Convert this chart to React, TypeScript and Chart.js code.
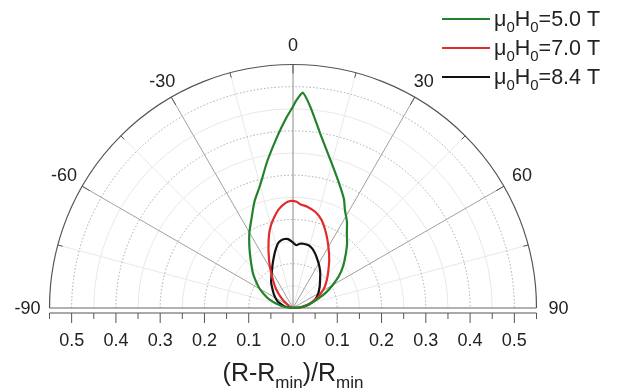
import React, { useEffect, useRef } from "react";
import { Chart, registerables } from "chart.js";

Chart.register(...registerables);

// ---- data (polar: angle in degrees from vertical, radius = (R-Rmin)/Rmin) ----
const seriesNames = ["5.0 T", "7.0 T", "8.4 T"];
const seriesColors = ["#22822a", "#e12a2a", "#111111"];

const angles5T = [-90, -80, -70, -60, -50, -45, -40, -35, -30, -25, -20, -15, -10, -5, -2, 0, 1, 2.6, 5, 9, 15, 20, 25, 28, 32, 36, 40, 44, 50, 55, 60, 65, 70, 75, 80, 85, 90];
const r5T = [0, 0.026, 0.058, 0.087, 0.117, 0.132, 0.15, 0.172, 0.197, 0.222, 0.255, 0.287, 0.336, 0.392, 0.43, 0.455, 0.47, 0.487, 0.455, 0.397, 0.338, 0.302, 0.272, 0.25, 0.23, 0.207, 0.19, 0.172, 0.148, 0.127, 0.103, 0.082, 0.06, 0.042, 0.027, 0.014, 0];

const angles7T = [-90, -75, -65, -55, -50, -45, -40, -35, -32, -29, -26, -22, -18, -15, -12, -8, -4, -1, 2, 4, 8, 13, 18, 24, 30, 37, 45, 50, 56, 60, 66, 70, 75, 80, 85, 90];
const r7T = [0, 0.004, 0.008, 0.02, 0.033, 0.047, 0.063, 0.08, 0.093, 0.108, 0.124, 0.148, 0.175, 0.193, 0.208, 0.226, 0.238, 0.242, 0.24, 0.235, 0.231, 0.223, 0.209, 0.184, 0.16, 0.136, 0.112, 0.1, 0.087, 0.077, 0.063, 0.052, 0.04, 0.028, 0.016, 0];

const angles84T = [-90, -80, -70, -64, -56, -48, -40, -34, -29, -24, -20, -17, -13, -10, -7, -4, -1, 3, 6, 9, 14, 18, 22, 27, 32, 38, 44, 50, 55, 60, 66, 72, 78, 83, 87, 90];
const r84T = [0, 0.019, 0.032, 0.041, 0.051, 0.062, 0.077, 0.087, 0.098, 0.112, 0.125, 0.136, 0.15, 0.155, 0.157, 0.156, 0.15, 0.142, 0.146, 0.147, 0.146, 0.141, 0.133, 0.122, 0.112, 0.1, 0.088, 0.079, 0.072, 0.066, 0.058, 0.049, 0.036, 0.023, 0.012, 0];

const angleTicks = [-90, -60, -30, 0, 30, 60, 90];
const angleMinorTicks = [-75, -45, -15, 15, 45, 75];
const radiusMajor = [0.1, 0.2, 0.3, 0.4, 0.5];
const radiusMinor = [0.05, 0.15, 0.25, 0.35, 0.45];
const radiusMax = 0.55;
const xTickValues = [-0.5, -0.4, -0.3, -0.2, -0.1, 0, 0.1, 0.2, 0.3, 0.4, 0.5];
const xTickLabels = ["0.5", "0.4", "0.3", "0.2", "0.1", "0.0", "0.1", "0.2", "0.3", "0.4", "0.5"];
const xMinorTicks = [-0.55, -0.45, -0.35, -0.25, -0.15, -0.05, 0.05, 0.15, 0.25, 0.35, 0.45, 0.55];

const FONT = '"Liberation Sans", Arial, Helvetica, sans-serif';

function toXY(angles: number[], radii: number[]) {
  return angles.map((a, i) => {
    const t = (a * Math.PI) / 180;
    return { x: radii[i] * Math.sin(t), y: radii[i] * Math.cos(t) };
  });
}

type Part = { t: string; sub?: boolean };

function drawRich(ctx: CanvasRenderingContext2D, parts: Part[], x: number, y: number, size: number, subSize: number, subShift: number, align: "left" | "center") {
  const widths = parts.map((p) => {
    ctx.font = `${p.sub ? subSize : size}px ${FONT}`;
    return ctx.measureText(p.t).width;
  });
  const total = widths.reduce((a, b) => a + b, 0);
  let cx = align === "center" ? x - total / 2 : x;
  ctx.textAlign = "left";
  ctx.textBaseline = "alphabetic";
  parts.forEach((p, i) => {
    ctx.font = `${p.sub ? subSize : size}px ${FONT}`;
    ctx.fillText(p.t, cx, p.sub ? y + subShift : y);
    cx += widths[i];
  });
}

const polarPlugin = {
  id: "polarGrid",
  beforeDatasetsDraw(chart: any) {
    const ctx: CanvasRenderingContext2D = chart.ctx;
    const xs = chart.scales.x;
    const ys = chart.scales.y;
    const cx = xs.getPixelForValue(0);
    const cy = ys.getPixelForValue(0);
    const R = (r: number) => xs.getPixelForValue(r) - cx;
    const pt = (a: number, rad: number) => {
      const t = (a * Math.PI) / 180;
      return [cx + rad * Math.sin(t), cy - rad * Math.cos(t)];
    };
    const Rmax = R(radiusMax);
    ctx.save();
    // minor arcs
    ctx.strokeStyle = "#e8e8e8";
    ctx.lineWidth = 1;
    radiusMinor.forEach((r) => {
      ctx.beginPath();
      ctx.arc(cx, cy, R(r), Math.PI, 2 * Math.PI);
      ctx.stroke();
    });
    // minor radials
    angleMinorTicks.forEach((a) => {
      const [x, y] = pt(a, Rmax);
      ctx.beginPath();
      ctx.moveTo(cx, cy);
      ctx.lineTo(x, y);
      ctx.stroke();
    });
    // dotted major arcs
    ctx.strokeStyle = "#a8a8a8";
    ctx.setLineDash([1.5, 2]);
    radiusMajor.forEach((r) => {
      ctx.beginPath();
      ctx.arc(cx, cy, R(r), Math.PI, 2 * Math.PI);
      ctx.stroke();
    });
    ctx.setLineDash([]);
    // major radials
    angleTicks.forEach((a) => {
      if (Math.abs(a) === 90) return;
      const [x, y] = pt(a, Rmax);
      ctx.strokeStyle = a === 0 ? "#8a8a8a" : "#a0a0a0";
      ctx.beginPath();
      ctx.moveTo(cx, cy);
      ctx.lineTo(x, y);
      ctx.stroke();
    });
    // outer arc
    ctx.strokeStyle = "#555";
    ctx.lineWidth = 1.2;
    ctx.beginPath();
    ctx.arc(cx, cy, Rmax, Math.PI, 2 * Math.PI);
    ctx.stroke();
    // ticks on outer arc
    ctx.lineWidth = 1;
    angleMinorTicks.forEach((a) => {
      const [x1, y1] = pt(a, Rmax);
      const [x2, y2] = pt(a, Rmax - 5);
      ctx.beginPath();
      ctx.moveTo(x1, y1);
      ctx.lineTo(x2, y2);
      ctx.stroke();
    });
    angleTicks.forEach((a) => {
      if (Math.abs(a) === 90) return;
      const [x1, y1] = pt(a, Rmax);
      const [x2, y2] = pt(a, Rmax - 9);
      ctx.beginPath();
      ctx.moveTo(x1, y1);
      ctx.lineTo(x2, y2);
      ctx.stroke();
    });
    // baseline
    ctx.strokeStyle = "#666";
    ctx.lineWidth = 1.2;
    ctx.beginPath();
    ctx.moveTo(cx - Rmax, cy);
    ctx.lineTo(cx + Rmax, cy);
    ctx.stroke();
    // x axis
    const ay = cy + 5;
    ctx.strokeStyle = "#555";
    ctx.lineWidth = 1;
    ctx.beginPath();
    ctx.moveTo(cx - Rmax, ay);
    ctx.lineTo(cx + Rmax, ay);
    ctx.stroke();
    xTickValues.forEach((v) => {
      const x = xs.getPixelForValue(v);
      ctx.beginPath();
      ctx.moveTo(x, ay);
      ctx.lineTo(x, ay + 10);
      ctx.stroke();
    });
    xMinorTicks.forEach((v) => {
      const x = xs.getPixelForValue(v);
      ctx.beginPath();
      ctx.moveTo(x, ay);
      ctx.lineTo(x, ay + 6);
      ctx.stroke();
    });
    ctx.restore();
  },
  afterDraw(chart: any) {
    const ctx: CanvasRenderingContext2D = chart.ctx;
    const xs = chart.scales.x;
    const ys = chart.scales.y;
    const cx = xs.getPixelForValue(0);
    const cy = ys.getPixelForValue(0);
    const Rmax = xs.getPixelForValue(radiusMax) - cx;
    ctx.save();
    ctx.fillStyle = "#222";
    // angle labels
    ctx.font = `18px ${FONT}`;
    ctx.textAlign = "center";
    ctx.textBaseline = "middle";
    angleTicks.forEach((a) => {
      const t = (a * Math.PI) / 180;
      const off = Math.abs(a) === 90 ? 22 : Math.abs(a) === 60 ? 21 : 18;
      const x = cx + (Rmax + off) * Math.sin(t);
      const y = cy - (Rmax + off) * Math.cos(t);
      ctx.fillText(String(a), x, y + (Math.abs(a) === 90 ? 1 : 0));
    });
    // x tick labels
    ctx.font = `18px ${FONT}`;
    xTickValues.forEach((v, i) => {
      ctx.fillText(xTickLabels[i], xs.getPixelForValue(v), cy + 33);
    });
    // title
    drawRich(
      ctx,
      [{ t: "(R-R" }, { t: "min", sub: true }, { t: ")/R" }, { t: "min", sub: true }],
      cx,
      cy + 73,
      25,
      17,
      7,
      "center"
    );
    // legend
    seriesNames.forEach((name, i) => {
      const y = 19 + i * 29;
      ctx.strokeStyle = seriesColors[i];
      ctx.lineWidth = 2.2;
      ctx.beginPath();
      ctx.moveTo(442, y);
      ctx.lineTo(490, y);
      ctx.stroke();
      ctx.fillStyle = "#222";
      drawRich(
        ctx,
        [{ t: "\u03bc" }, { t: "0", sub: true }, { t: "H" }, { t: "0", sub: true }, { t: "=" + name }],
        494,
        y + 7,
        21.5,
        15,
        6,
        "left"
      );
    });
    ctx.restore();
  },
};

export default function App() {
  const canvasRef = useRef<HTMLCanvasElement>(null);
  useEffect(() => {
    document.body.style.margin = "0";
    const canvas = canvasRef.current;
    if (!canvas) return;
    const datasets = [
      toXY(angles5T, r5T),
      toXY(angles7T, r7T),
      toXY(angles84T, r84T),
    ].map((data, i) => ({
      label: seriesNames[i],
      data,
      showLine: true,
      borderColor: seriesColors[i],
      backgroundColor: seriesColors[i],
      borderWidth: 2.2,
      pointRadius: 0,
      tension: 0.2,
      fill: false,
      clip: false as any,
    }));
    const chart = new Chart(canvas, {
      type: "scatter",
      data: { datasets },
      options: {
        responsive: false,
        animation: false,
        devicePixelRatio: 1,
        layout: { padding: { left: 49.5, right: 80.5, top: 64.5, bottom: 84 } },
        scales: {
          x: { type: "linear", min: -0.55, max: 0.55, display: false },
          y: { type: "linear", min: 0, max: 0.55, display: false },
        },
        plugins: { legend: { display: false }, tooltip: { enabled: false } },
      },
      plugins: [polarPlugin],
    });
    return () => chart.destroy();
  }, []);
  return (
    <div style={{ position: "absolute", left: 0, top: 0, width: 617, height: 392, background: "#fff" }}>
      <canvas ref={canvasRef} width={617} height={392} style={{ width: 617, height: 392, display: "block" }} />
    </div>
  );
}
